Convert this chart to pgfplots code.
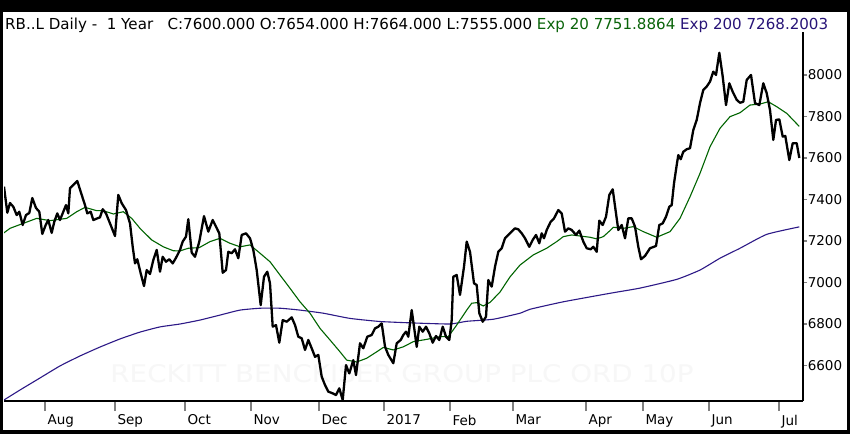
\documentclass[border=0pt]{standalone}
\usepackage{pgfplots}
\pgfplotsset{compat=1.18}
\usepackage{fontspec}
\setmainfont{DejaVu Sans}
\definecolor{emagreen}{RGB}{0,100,0}
\definecolor{emapurple}{RGB}{45,25,135}
\definecolor{ttlgreen}{RGB}{10,100,10}
\definecolor{ttlpurple}{RGB}{40,20,120}
\begin{document}
\begin{tikzpicture}[x=1pt,y=1pt]
\fill[black] (0,0) rectangle (850,434);
\fill[white] (3,4) rectangle (847,422);
\node[anchor=base west, inner sep=0pt] at (5,404.7) {\resizebox{823pt}{11.5pt}{RB..L Daily -\ \ 1 Year\ \ \ C:7600.000 O:7654.000 H:7664.000 L:7555.000 \textcolor{ttlgreen}{Exp 20 7751.8864} \textcolor{ttlpurple}{Exp 200 7268.2003}}};
\begin{axis}[
  at={(4pt,33pt)}, anchor=south west, scale only axis,
  width=799pt, height=369pt,
  xmin=4, xmax=803, ymin=6429, ymax=8207,
  axis x line*=bottom, axis y line*=right,
  axis line style={-, line width=2pt},
  tick align=outside,
  xtick={45,115,185,251,319,384,450,513,586,643,709,779},
  xticklabels={Aug,Sep,Oct,Nov,Dec,2017,Feb,Mar,Apr,May,Jun,Jul},
  ytick={6600,6800,7000,7200,7400,7600,7800,8000},
  yticklabels={6600,6800,7000,7200,7400,7600,7800,8000},
  xtick style={line width=2pt, /pgfplots/major tick length=10pt},
  ytick style={line width=1.5pt, /pgfplots/major tick length=4pt},
  minor tick num=0,
  /pgf/number format/assume math mode=true,
  ticklabel style={font=\fontsize{13.5}{14}\selectfont},
  xticklabel style={anchor=north west, xshift=-1pt, yshift=-6pt},
  yticklabel style={anchor=west, xshift=-3pt},
  clip=true,
]
\node at (axis cs:402,6559) {\textcolor{black!3}{\resizebox{583pt}{18pt}{RECKITT BENCKISER GROUP PLC ORD 10P}}};
% EMA 200
\addplot[color=emapurple, line width=1.1pt, no marks, smooth, tension=0.3] coordinates {
(4,6434)(20,6482)(40,6540)(60,6598)(80,6646)(100,6689)(120,6728)(140,6761)(160,6786)(180,6800)(200,6819)(220,6843)(240,6867)(260,6876)(280,6876)(300,6867)(323.3,6852)(350,6827)(380,6812)(413.3,6805)(450,6800)(466.7,6813)(493.3,6823)(520,6852)(530,6871)(563.3,6907)(610,6948)(640,6973)(676.7,7015)(700,7060)(720,7117)(740,7165)(766.7,7232)(799.3,7268)
};
% EMA 20
\addplot[color=emagreen, line width=1.1pt, no marks] coordinates {
(3.3,7237)(10,7261)(23.3,7285)(36.7,7309)(50,7298)(66.7,7309)(76.7,7341)(85,7362)(96.7,7346)(103.3,7346)(113.3,7330)(123.3,7341)(131.7,7309)(140,7261)(151.7,7205)(163.3,7172)(173.3,7153)(180,7152)(188.3,7165)(199.3,7168)(210,7197)(220,7213)(230,7189)(240,7172)(250,7181)(260,7141)(270,7100)(280,7036)(290,6972)(300,6907)(310,6852)(320,6779)(330,6723)(340,6666)(346.7,6626)(356.7,6617)(366.7,6635)(376.7,6666)(383.3,6687)(393.3,6675)(403.3,6690)(413.3,6715)(426.7,6726)(440,6739)(448.3,6739)(456.7,6795)(466.7,6867)(471.7,6900)(476.7,6903)(483.3,6887)(490,6904)(500,6954)(510,7027)(520,7084)(533.3,7133)(546.7,7165)(556.7,7197)(563.3,7221)(571.7,7229)(580,7224)(590,7218)(596.7,7210)(603.3,7221)(610,7250)(613.3,7266)(623.3,7261)(633.3,7269)(643.3,7245)(656.7,7218)(670,7245)(680,7309)(690,7413)(700,7526)(710,7654)(720,7743)(730,7799)(740,7818)(750,7855)(760,7860)(768.3,7871)(776.7,7847)(786.7,7815)(799.3,7752)
};
% Price
\addplot[color=black, line width=2.3pt, line join=round, no marks] coordinates {
(4,7462)(7.3,7336)(10,7383)(13.3,7365)(16.7,7325)(19.3,7341)(22.7,7277)(26,7325)(29.3,7335)(32.3,7407)(36,7359)(39.3,7341)(42.3,7234)(45.7,7277)(48.3,7301)(51.7,7239)(54.3,7293)(57.3,7333)(60,7301)(63.3,7341)(66,7373)(68.3,7333)(70,7454)(73.3,7470)(77.3,7489)(81.7,7422)(85,7373)(87.3,7333)(90.7,7341)(93.3,7301)(97.3,7309)(100,7314)(102.7,7353)(106,7333)(110,7285)(115,7224)(118.3,7422)(121.7,7382)(126,7349)(130,7285)(132.7,7172)(135,7092)(137.3,7112)(140.7,7044)(144,6983)(146.7,7060)(150,7041)(153.3,7108)(156.7,7157)(160,7052)(162.7,7124)(166,7100)(169.3,7112)(172.7,7092)(176,7119)(180,7157)(182.7,7197)(186,7221)(188.3,7305)(191.7,7144)(195,7124)(199.3,7197)(204,7320)(208.3,7245)(212.7,7301)(219.3,7237)(222.7,7047)(226,7060)(228.3,7148)(231.7,7141)(235,7160)(238.3,7117)(241.7,7229)(246,7237)(250,7213)(253.3,7157)(256.7,7060)(260.7,6891)(264,7028)(267.3,7052)(270,6996)(272.7,6787)(276,6795)(279.3,6710)(282.7,6819)(286.7,6811)(291.7,6832)(295,6795)(298.3,6739)(301.7,6731)(305,6675)(308.3,6723)(311.7,6683)(315,6642)(318.3,6651)(321.7,6546)(325,6506)(328.3,6474)(332.7,6466)(336,6458)(339.3,6490)(342.7,6434)(346,6602)(349.3,6562)(353.3,6626)(356,6554)(360,6707)(363.3,6683)(367.3,6739)(371.7,6747)(375,6779)(378.3,6787)(381.7,6803)(385,6691)(388.3,6651)(393.3,6611)(396.7,6707)(400.7,6723)(403.3,6747)(406,6763)(408.3,6739)(411.7,6867)(414,6787)(416.7,6690)(419.3,6787)(422.7,6763)(426,6787)(429.3,6755)(432.7,6710)(436,6742)(439.3,6723)(442.7,6787)(446,6739)(449.3,6723)(451.7,6819)(453.3,7028)(456.7,7036)(460,6940)(464,7076)(466.7,7197)(470,7148)(474,6996)(476.7,6988)(479.3,6852)(482.7,6811)(486,6835)(488.3,7012)(491.7,6980)(495,7076)(498.3,7148)(501.7,7165)(505,7213)(510,7237)(515,7261)(518.3,7256)(521.7,7237)(525,7213)(529.3,7172)(532.7,7205)(536,7229)(539.3,7189)(541.7,7237)(544,7213)(546.7,7253)(550.7,7293)(554,7309)(558.3,7349)(561.7,7333)(565,7245)(568.3,7261)(571.7,7253)(576,7229)(579.3,7250)(583.3,7197)(586.7,7165)(590.7,7160)(593.3,7172)(596.7,7148)(599.3,7298)(602.7,7277)(606,7317)(609.3,7422)(612.7,7449)(616,7333)(618.3,7253)(621.7,7277)(625,7213)(628.3,7309)(631.7,7309)(635,7269)(638.3,7172)(641,7112)(645,7128)(650,7165)(656,7176)(659.3,7277)(662.7,7285)(666,7317)(669.3,7365)(671.7,7373)(674,7478)(676.7,7566)(678.3,7614)(680.7,7594)(683.3,7630)(686.7,7642)(690,7647)(693.3,7735)(696.7,7783)(700,7864)(703.3,7928)(706.7,7944)(710,7968)(713.3,8016)(716,8000)(719.3,8107)(722.7,7992)(726,7855)(729.3,7960)(732.7,7919)(736.7,7880)(740,7866)(743.3,7871)(746.7,7976)(751,8000)(755,7864)(759.3,7855)(763.3,7960)(766.7,7912)(770,7831)(773.3,7687)(776,7783)(779.3,7786)(782.7,7703)(785.3,7706)(789.3,7590)(792.7,7671)(796.7,7671)(799.3,7600)
};
\end{axis}
\end{tikzpicture}
\end{document}
